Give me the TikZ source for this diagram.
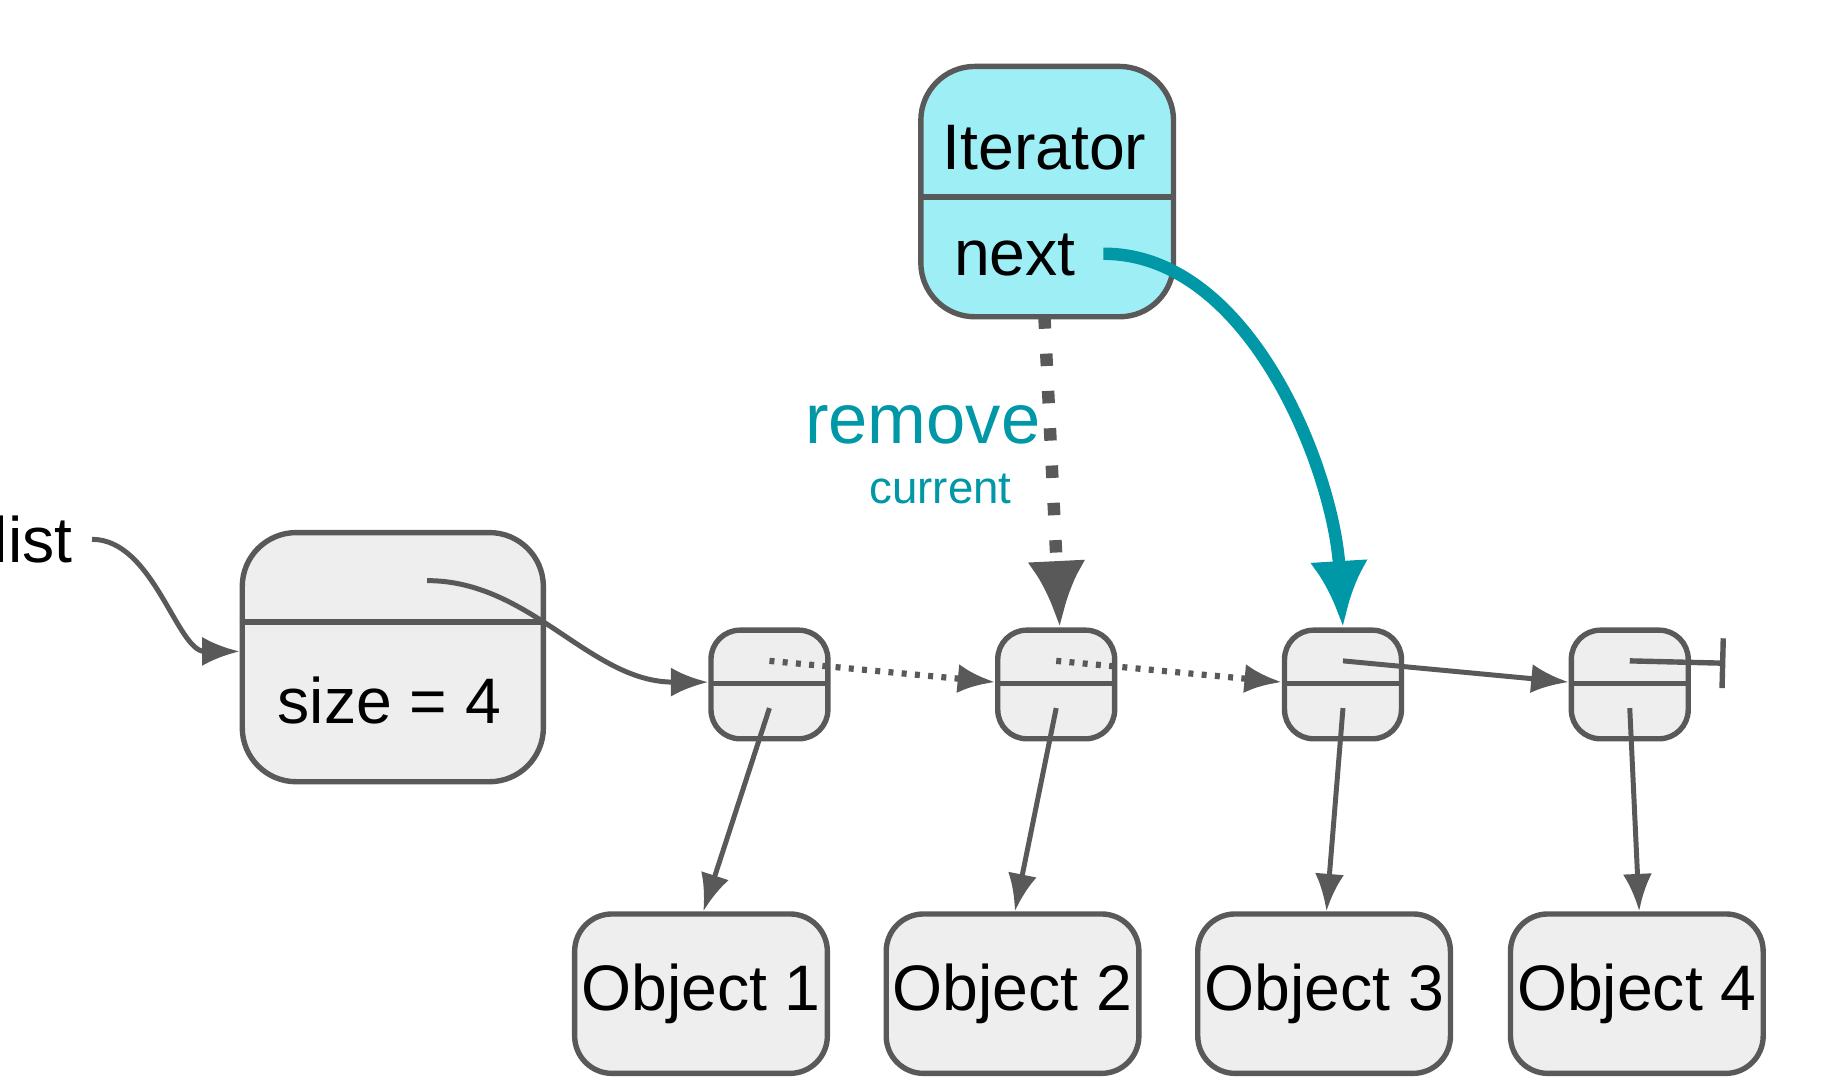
\documentclass[tikz,border=0pt]{standalone}
\usepackage{fontspec}
\setmainfont{Liberation Sans}
\usetikzlibrary{calc,arrows.meta}
\definecolor{edgegray}{HTML}{595959}
\definecolor{boxgray}{HTML}{EEEEEE}
\definecolor{itercyan}{HTML}{9EEEF6}
\definecolor{tealtext}{HTML}{0097A7}
\tikzset{
  box/.style={draw=edgegray, line width=1.3pt, fill=boxgray, rounded corners=9pt, inner sep=0pt},
  ptr/.style={draw=edgegray, line width=1.2pt, -{Latex[length=9pt,width=7pt]}},
  big/.style={font=\fontsize{15.5}{18}\selectfont},
}
\begin{document}
\begin{tikzpicture}[x=0.01cm,y=-0.01cm]
  \useasboundingbox (0,0) rectangle (1560,924);
  % iterator
  \node[box, fill=itercyan, rounded corners=13pt, anchor=north west,
        minimum width=2.14cm, minimum height=2.12cm] (iter) at (778,54) {};
  \draw[edgegray, line width=1.3pt] (778,167) -- (992,167);
  \node[big] (iname) at (885,125) {Iterator};
  \node[big] (inext) at (860,216) {next};
  % list head
  \node[box, rounded corners=13pt, anchor=north west, minimum width=2.55cm, minimum height=2.11cm] (head) at (203,449) {};
  \draw[edgegray, line width=1.3pt] (203,527) -- (458,527);
  \node[big] (size) at (330,594) {size = 4};
  \node[big, anchor=east, inner sep=0pt] (lname) at (62,457) {list};
  % cells and objects
  \foreach \i/\cx/\ox in {1/652/594, 2/895/858, 3/1138/1122, 4/1381/1387} {
    \node[box, rounded corners=7pt, minimum width=0.99cm, minimum height=0.92cm] (cell\i) at (\cx,580) {};
    \draw[edgegray, line width=1.3pt] (\cx-50,579) -- (\cx+50,579);
    \coordinate (nx\i) at (\cx,560);
    \coordinate (vl\i) at (\cx,600);
    \node[box, big, minimum width=2.14cm, minimum height=1.35cm] (obj\i) at (\ox,842) {Object \i};
    \draw[ptr] (vl\i) -- (obj\i.north -| \ox+2,0);
  }
  \coordinate (hx) at (362,492);
  \draw[ptr] (hx) .. controls (450,492) and (500,578) .. (cell1.west |- 0,578);
  \draw[ptr] (78,457) .. controls (130,457) and (150,552) .. (head.west |- 0,552);
  \draw[ptr, dotted, line width=1.5pt] (nx1) -- (cell2.west |- 0,578);
  \draw[ptr, dotted, line width=1.5pt] (nx2) -- (cell3.west |- 0,578);
  \draw[ptr] (nx3) -- (cell4.west |- 0,578);
  \coordinate (nilend) at (1462,562);
  \draw[edgegray, line width=1.3pt, -{Bar[width=12pt]}] (nx4) -- (nilend);
  % iterator pointers
  \draw[edgegray, line width=3pt, dash pattern=on 3pt off 6pt, -{Latex[length=16pt,width=14pt]}] (885,268) -- (cell2.north -| 898,0);
  \draw[tealtext, line width=3pt, -{Latex[length=16pt,width=14pt]}] (935,215) .. controls (1060,215) and (1130,400) .. (cell3.north);
  \node[tealtext, font=\fontsize{17}{20}\selectfont] (rm) at (782,360) {remove};
  \node[tealtext, font=\fontsize{11}{13}\selectfont] (cur) at (797,414) {current};
\end{tikzpicture}
\end{document}
